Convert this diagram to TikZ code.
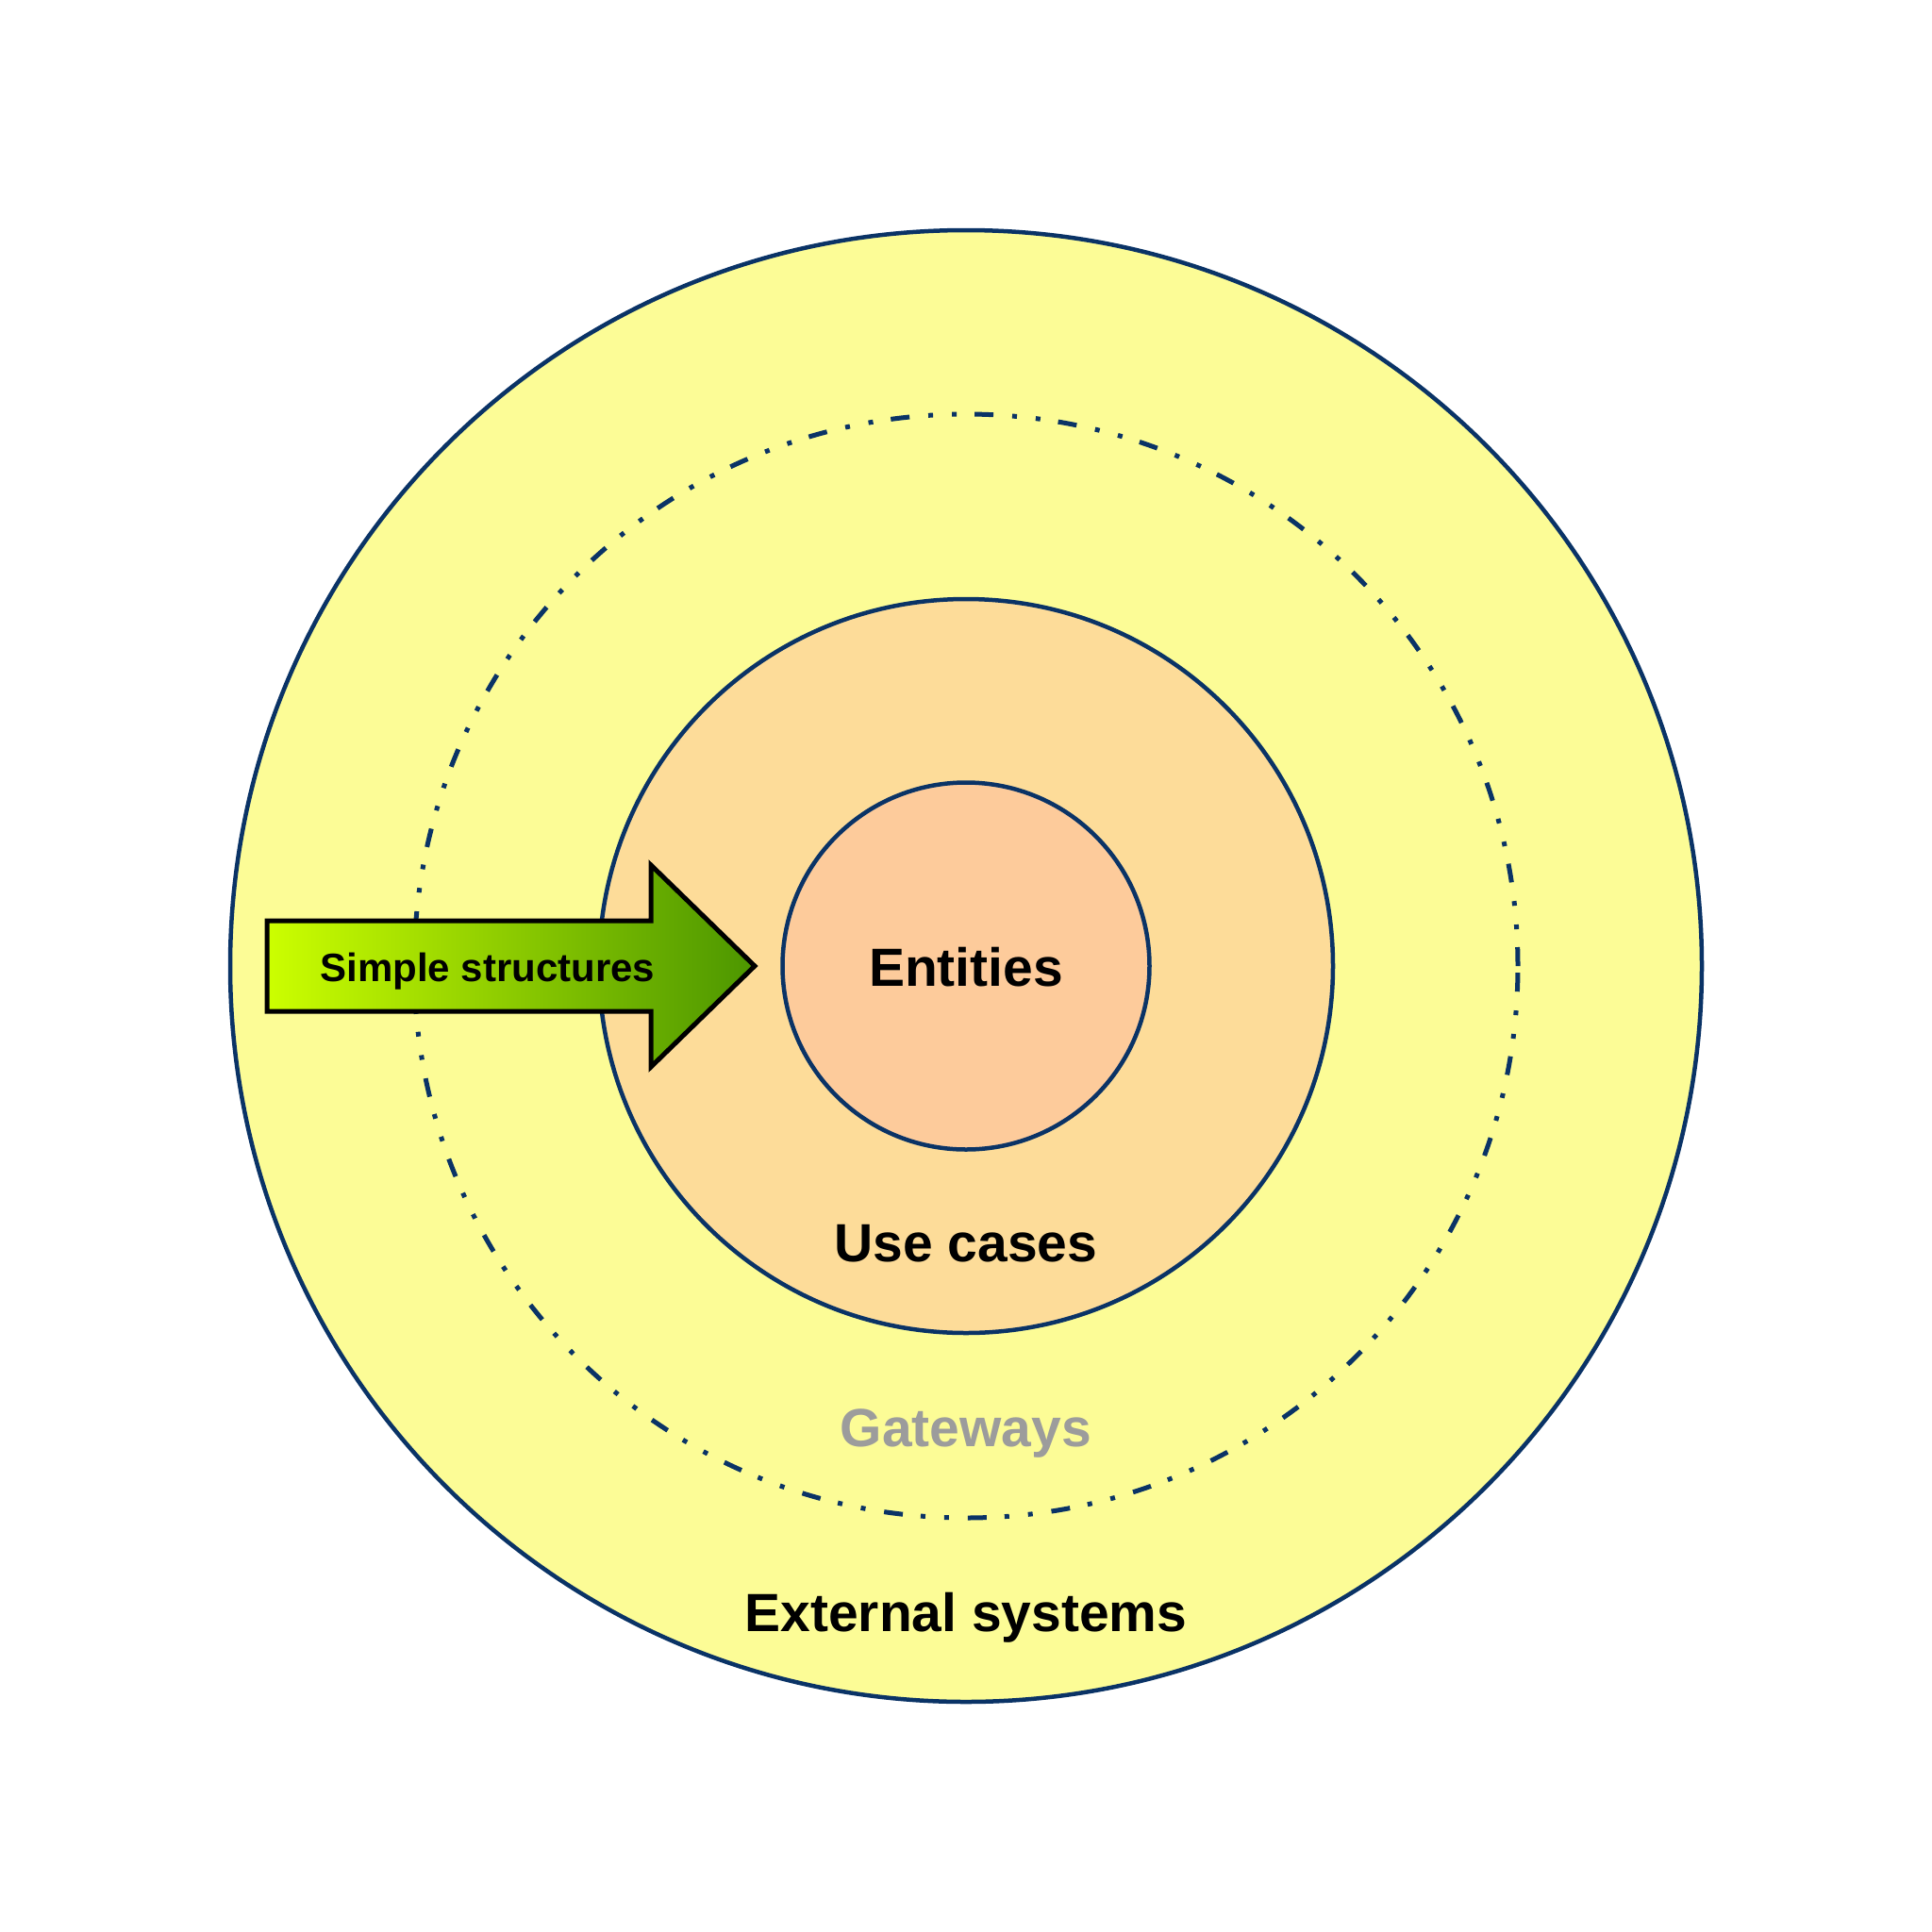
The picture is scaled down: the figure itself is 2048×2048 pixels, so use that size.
\documentclass[tikz,border=0pt]{standalone}
\usepackage{fontspec}
\setmainfont{Liberation Sans}
\definecolor{ringline}{HTML}{0A3366}
\definecolor{outerfill}{HTML}{FCFC96}
\definecolor{midfill}{HTML}{FDDC99}
\definecolor{innerfill}{HTML}{FDCB9B}
\definecolor{arrowleft}{HTML}{CCFF00}
\definecolor{arrowright}{HTML}{4C9600}
\definecolor{gatewaygray}{HTML}{9C9C9C}
\tikzset{
  ring/.style={draw=ringline, line width=4.5pt},
  bigtext/.style={font=\bfseries\fontsize{57}{60}\selectfont, anchor=base, inner sep=0pt},
  arrowtext/.style={font=\bfseries\fontsize{42}{46}\selectfont, anchor=base, inner sep=0pt},
}
\begin{document}
\begin{tikzpicture}[x=1pt,y=-1pt]
\useasboundingbox (0,0) rectangle (2048,2048);
\coordinate (c) at (1024,1024);
\node[ring, circle, fill=outerfill, minimum size=1560pt, inner sep=0pt] (outer) at (c) {};
\node[circle, draw=ringline, line width=5pt, dash pattern=on 20pt off 19pt on 5pt off 20pt on 5pt off 20pt, minimum size=1170pt, inner sep=0pt] (gate) at (c) {};
\node[ring, circle, fill=midfill, minimum size=778pt, inner sep=0pt] (uc) at (c) {};
\node[ring, circle, fill=innerfill, minimum size=389pt, inner sep=0pt] (ent) at (c) {};
\node[bigtext] (enttext) at (1024,1045) {Entities};
\node[bigtext] (uctext) at (1024,1337) {Use cases};
\node[bigtext, text=gatewaygray] (gwtext) at (1024,1533) {Gateways};
\node[bigtext] (extext) at (1024,1729) {External systems};
\path[left color=arrowleft, right color=arrowright, draw=black, line width=5pt, line join=miter]
  (283,976) -- (690,976) -- (690,917) -- (800,1024) -- (690,1131) -- (690,1072) -- (283,1072) -- cycle;
\node[arrowtext] (arrtext) at (517,1040) {Simple structures};
\end{tikzpicture}
\end{document}
